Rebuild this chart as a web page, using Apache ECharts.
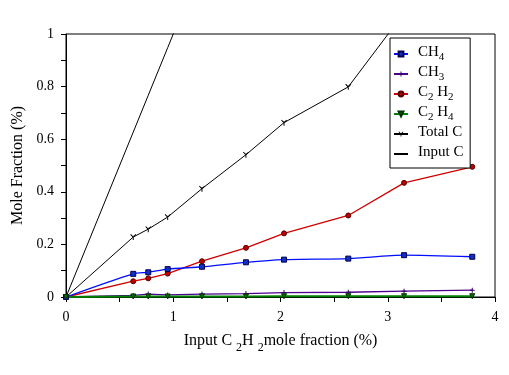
<!DOCTYPE html>
<html>
<head>
<meta charset="utf-8">
<script src="https://cdn.jsdelivr.net/npm/echarts@6/dist/echarts.min.js"></script>
<style>html,body{margin:0;padding:0;background:#fff}#c{width:509px;height:375px}</style>
</head>
<body>
<div id="c"></div>
<script>
var xVals  = [0, 0.627, 0.767, 0.948, 1.268, 1.678, 2.033, 2.632, 3.152, 3.788];
var ch4    = [0, 0.088, 0.094, 0.106, 0.115, 0.132, 0.142, 0.146, 0.159, 0.153];
var ch3    = [0, 0.006, 0.011, 0.008, 0.011, 0.013, 0.017, 0.018, 0.022, 0.026];
var c2h2   = [0, 0.060, 0.071, 0.089, 0.136, 0.187, 0.242, 0.310, 0.434, 0.495];
var c2h4   = [0, 0.002, 0.002, 0.002, 0.002, 0.002, 0.003, 0.003, 0.003, 0.003];
var totalC = [0, 0.228, 0.258, 0.304, 0.412, 0.541, 0.663, 0.799, 1.080, 1.250];
var inputC = [0, 0.627, 0.767, 0.948, 1.268, 1.678, 2.033, 2.632, 3.152, 3.788];
var seriesNames = ['CH4', 'CH3', 'C2H2', 'C2H4', 'Total C', 'Input C'];
var legendLabels = {
  'CH4': '{n|CH}{s|4}',
  'CH3': '{n|CH}{s|3}',
  'C2H2': '{n|C}{s|2}{n| H}{s|2}',
  'C2H4': '{n|C}{s|2}{n| H}{s|4}',
  'Total C': '{n|Total C}{s| }',
  'Input C': '{n|Input C}{s| }'
};

function pairs(ys) { return xVals.map(function (x, i) { return [x, ys[i]]; }); }

var FONT = 'Liberation Serif';
var plusPath = 'path://M0,4L10,4L10,6L0,6Z M4,0L6,0L6,10L4,10Z';
var starPath = 'path://M4.2,3L5.8,3L5.8,10L4.2,10Z M0.2,1.2L1.4,0.2L5.6,5L4.4,6Z M9.8,1.2L8.6,0.2L4.4,5L5.6,6Z';
var dashPath = 'path://M0,0L0.01,0L0,0.01Z M0,4.4L10,4.4L10,5.6L0,5.6Z M9.99,10L10,10L10,9.99Z';

var chart = echarts.init(document.getElementById('c'), null, {renderer: 'canvas'});
chart.setOption({
  animation: false,
  backgroundColor: '#fff',
  textStyle: {fontFamily: FONT},
  grid: {left: 66, right: 14, top: 34, bottom: 78, show: true, borderColor: '#000', borderWidth: 1},
  legend: {
    left: 390, top: 38,
    orient: 'vertical',
    data: seriesNames,
    backgroundColor: '#fff',
    borderColor: '#000', borderWidth: 1,
    padding: [7, 4, 5, 3],
    itemWidth: 14, itemHeight: 6,
    itemGap: 2,
    formatter: function (n) { return legendLabels[n]; },
    textStyle: {
      fontFamily: FONT, color: '#000', padding: [0, 0, 0, 5],
      rich: {
        n: {fontFamily: FONT, fontSize: 15, color: '#000', lineHeight: 15, verticalAlign: 'top'},
        s: {fontFamily: FONT, fontSize: 11, color: '#000', lineHeight: 18, verticalAlign: 'bottom'}
      }
    }
  },
  xAxis: {
    type: 'value', min: 0, max: 4, interval: 0.5,
    name: '{n|Input C }{s|2}{n|H }{s|2}{n|mole fraction (%)}',
    nameLocation: 'middle', nameGap: 36,
    nameTextStyle: {
      rich: {
        n: {fontFamily: FONT, fontSize: 16, color: '#000', lineHeight: 17, verticalAlign: 'top'},
        s: {fontFamily: FONT, fontSize: 12, color: '#000', lineHeight: 21, verticalAlign: 'bottom'}
      }
    },
    axisLine: {lineStyle: {color: '#000', width: 1}},
    axisTick: {show: true, inside: false, length: 5, lineStyle: {color: '#000'}},
    splitLine: {show: false},
    axisLabel: {
      fontFamily: FONT, fontSize: 14, color: '#000', margin: 13,
      formatter: function (v) { var k = Math.round(v * 2); return k % 2 === 0 ? String(k / 2) : ''; }
    }
  },
  yAxis: {
    type: 'value', min: 0, max: 1, interval: 0.1,
    name: 'Mole Fraction (%)',
    nameLocation: 'middle', nameGap: 38,
    nameTextStyle: {fontFamily: FONT, fontSize: 16, color: '#000'},
    axisLine: {show: true, lineStyle: {color: '#000', width: 1}},
    axisTick: {show: true, inside: false, length: 5, lineStyle: {color: '#000'}},
    splitLine: {show: false},
    axisLabel: {
      fontFamily: FONT, fontSize: 14, color: '#000', margin: 12,
      formatter: function (v) { var k = Math.round(v * 10); return k % 2 === 0 ? String(k / 10) : ''; }
    }
  },
  series: [
    {name: 'Input C', type: 'line', data: pairs(inputC), showSymbol: false, symbol: dashPath, symbolSize: 8,
     lineStyle: {color: '#000', width: 1}, itemStyle: {color: '#000'}},
    {name: 'Total C', type: 'line', data: pairs(totalC), symbol: starPath, symbolSize: 6,
     lineStyle: {color: '#000', width: 1}, itemStyle: {color: '#000'}},
    {name: 'C2H2', type: 'line', data: pairs(c2h2), symbol: 'circle', symbolSize: 5,
     lineStyle: {color: '#d00000', width: 1.3}, itemStyle: {color: '#c00000', borderColor: '#500000', borderWidth: 1}},
    {name: 'CH4', type: 'line', data: pairs(ch4), symbol: 'rect', symbolSize: 5, smooth: 0.25,
     lineStyle: {color: '#0010ff', width: 1.3}, itemStyle: {color: '#1030c0', borderColor: '#000050', borderWidth: 1}},
    {name: 'CH3', type: 'line', data: pairs(ch3), symbol: plusPath, symbolSize: 5,
     lineStyle: {color: '#4b0090', width: 1.3}, itemStyle: {color: '#300060'}},
    {name: 'C2H4', type: 'line', data: pairs(c2h4), symbol: 'triangle', symbolRotate: 180, symbolSize: 5,
     lineStyle: {color: '#008000', width: 2}, itemStyle: {color: '#007000', borderColor: '#003000', borderWidth: 1}}
  ]
});
</script>
</body>
</html>
